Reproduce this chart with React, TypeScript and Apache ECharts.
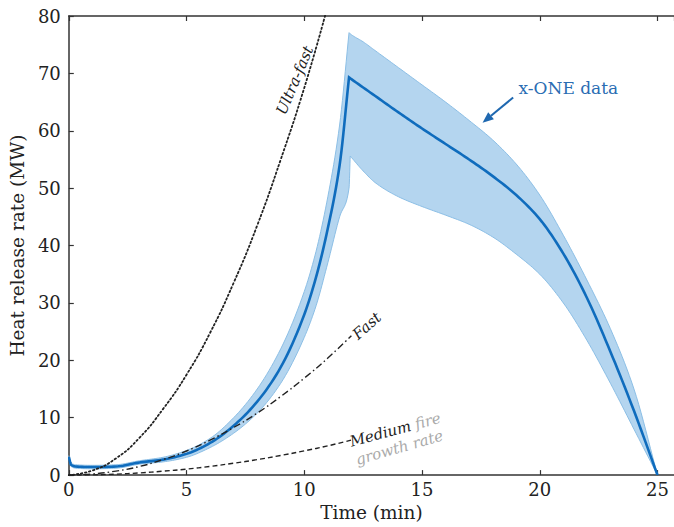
import React, { useEffect, useRef } from "react";
import * as echarts from "echarts";

// ---- data ----
const xTicks = [0, 5, 10, 15, 20, 25];
const yTicks = [0, 10, 20, 30, 40, 50, 60, 70, 80];

const meanTime = [0, 0.1, 0.3, 1, 2, 3, 4, 5, 6, 7, 8, 9, 10, 10.5, 11, 11.5, 11.9, 12, 13, 14, 15, 16, 17, 18, 19, 20, 21, 22, 23, 24, 25];
const meanHRR = [3.2, 1.8, 1.5, 1.4, 1.5, 2.2, 2.7, 3.7, 5.6, 8.6, 12.8, 18.8, 28, 34.5, 43, 54, 69.3, 69.0, 66.1, 63.2, 60.4, 57.7, 55.0, 52.1, 48.8, 44.6, 38.6, 30.9, 21.5, 11.2, 0];

const bandTime = [0, 0.1, 0.3, 1, 2, 3, 4, 5, 6, 7, 8, 9, 10, 10.5, 11, 11.5, 11.9, 11.95, 12.5, 13, 14, 15, 16, 17, 18, 19, 20, 21, 22, 23, 24, 25];
const bandUpper = [3.4, 2.1, 1.8, 1.7, 1.8, 2.5, 3.1, 4.3, 6.4, 10.0, 15, 22, 32, 39, 48.5, 61, 77.1, 76.9, 75.5, 74, 71, 68, 65, 61.8, 58.4, 54.2, 48.8, 41.8, 34, 25.5, 15, 0];
const bandLower = [3.0, 1.5, 1.2, 1.1, 1.2, 1.9, 2.3, 3.1, 4.8, 7.3, 10.8, 16, 24, 29.5, 37, 45, 50, 55.6, 53, 51, 48.5, 46.8, 45.3, 43.7, 41.5, 38.5, 35, 30, 23.5, 16, 8, 0];

const ultraTime = [0, 1, 2, 3, 4, 5, 6, 7, 8, 9, 10, 10.9];
const ultraHRR = [0, 0.8, 2.9, 6.5, 11.5, 17.5, 24.8, 33.5, 43.5, 55, 67.5, 80.3];

const fastTime = [0, 1, 2, 3, 4, 5, 6, 7, 8, 9, 10, 11, 12];
const fastHRR = [0, 0.2, 0.7, 1.5, 2.7, 4.2, 6.1, 8.3, 10.8, 13.7, 16.9, 20.4, 24.3];

const mediumTime = [0, 1, 2, 3, 4, 5, 6, 7, 8, 9, 10, 11, 12];
const mediumHRR = [0, 0.04, 0.17, 0.38, 0.68, 1.05, 1.52, 2.07, 2.7, 3.42, 4.22, 5.1, 6.1];

const X_MAX = 25.7;
const Y_MAX = 80;

const SERIF = '"DejaVu Serif", serif';

const zip = (t: number[], v: number[]) => t.map((x, i) => [x, v[i]]);

// monotone cubic (PCHIP) drawing of pixel points, x increasing
function pchip(pts: number[][], steps = 10): number[][] {
  const n = pts.length;
  if (n < 3) return pts.slice();
  const h: number[] = [];
  const d: number[] = [];
  for (let i = 0; i < n - 1; i++) {
    h[i] = Math.max(pts[i + 1][0] - pts[i][0], 1e-6);
    d[i] = (pts[i + 1][1] - pts[i][1]) / h[i];
  }
  const m: number[] = new Array(n).fill(0);
  m[0] = d[0];
  m[n - 1] = d[n - 2];
  for (let i = 1; i < n - 1; i++) {
    if (d[i - 1] * d[i] <= 0) m[i] = 0;
    else {
      const w1 = 2 * h[i] + h[i - 1];
      const w2 = h[i] + 2 * h[i - 1];
      m[i] = (w1 + w2) / (w1 / d[i - 1] + w2 / d[i]);
    }
  }
  const out: number[][] = [pts[0]];
  for (let i = 0; i < n - 1; i++) {
    const [x0, y0] = pts[i];
    const y1 = pts[i + 1][1];
    for (let k = 1; k <= steps; k++) {
      const s = k / steps;
      const s2 = s * s;
      const s3 = s2 * s;
      const h00 = 2 * s3 - 3 * s2 + 1;
      const h10 = s3 - 2 * s2 + s;
      const h01 = -2 * s3 + 3 * s2;
      const h11 = s3 - s2;
      out.push([x0 + s * h[i], h00 * y0 + h10 * h[i] * m[i] + h01 * y1 + h11 * h[i] * m[i + 1]]);
    }
  }
  return out;
}

// split at the maximum value so that the peak stays a sharp corner
function edge(pts: number[][], vals: number[]): number[][] {
  let k = 0;
  vals.forEach((v, i) => {
    if (v > vals[k]) k = i;
  });
  const a = pchip(pts.slice(0, k + 1));
  const b = pchip(pts.slice(k));
  return a.concat(b.slice(1));
}

export default function App() {
  const ref = useRef<HTMLDivElement>(null);

  useEffect(() => {
    document.body.style.margin = "0";
    const chart = echarts.init(ref.current!, null, { renderer: "svg" });

    const axisLine = { show: true, lineStyle: { color: "#333", width: 1.5 } };
    const axisTick = { show: true, inside: true, length: 5, lineStyle: { color: "#333", width: 1.2 } };

    const option: any = {
      animation: false,
      grid: { left: 61, right: 0, top: 16, bottom: 50 },
      xAxis: [
        {
          type: "value",
          min: 0,
          max: X_MAX,
          interval: 5,
          position: "bottom",
          axisLine,
          axisTick,
          splitLine: { show: false },
          axisLabel: {
            margin: 5,
            color: "#222",
            fontFamily: SERIF,
            fontSize: 18,
            showMaxLabel: false,
            formatter: (v: number) => (xTicks.includes(v) ? String(v) : ""),
          },
          name: "Time (min)",
          nameLocation: "middle",
          nameGap: 27,
          nameTextStyle: { color: "#222", fontFamily: SERIF, fontSize: 18.5 },
        },
        {
          type: "value",
          min: 0,
          max: X_MAX,
          interval: 5,
          position: "top",
          axisLine,
          axisTick,
          splitLine: { show: false },
          axisLabel: { show: false },
        },
      ],
      yAxis: {
        type: "value",
        min: 0,
        max: Y_MAX,
        interval: 10,
        axisLine,
        axisTick,
        splitLine: { show: false },
        axisLabel: {
          margin: 8,
          color: "#222",
          fontFamily: SERIF,
          fontSize: 18,
          formatter: (v: number) => (yTicks.includes(v) ? String(v) : ""),
        },
        name: "Heat release rate (MW)",
        nameLocation: "middle",
        nameGap: 34,
        nameTextStyle: { color: "#222", fontFamily: SERIF, fontSize: 18.5 },
      },
      series: [
        {
          name: "x-ONE range",
          type: "custom",
          xAxisIndex: 0,
          yAxisIndex: 0,
          clip: true,
          data: [[0, 0]],
          z: 1,
          renderItem: (_p: any, api: any) => {
            const up = edge(bandTime.map((t, i) => api.coord([t, bandUpper[i]])), bandUpper);
            const lo = edge(bandTime.map((t, i) => api.coord([t, bandLower[i]])), bandLower);
            return {
              type: "group",
              children: [
                {
                  type: "polygon",
                  shape: { points: up.concat(lo.slice().reverse()) },
                  style: { fill: "#b4d5ef", stroke: null },
                },
                {
                  type: "polyline",
                  shape: { points: up },
                  style: { fill: null, stroke: "#8cbfe6", lineWidth: 1 },
                },
                {
                  type: "polyline",
                  shape: { points: lo },
                  style: { fill: null, stroke: "#8cbfe6", lineWidth: 1 },
                },
              ],
            };
          },
        },
        {
          name: "x-ONE mean",
          type: "custom",
          xAxisIndex: 0,
          yAxisIndex: 0,
          clip: true,
          data: [[0, 0]],
          z: 3,
          renderItem: (_p: any, api: any) => {
            const pts = edge(meanTime.map((t, i) => api.coord([t, meanHRR[i]])), meanHRR);
            return {
              type: "polyline",
              shape: { points: pts },
              style: { fill: null, stroke: "#0f6cbd", lineWidth: 2.6, lineJoin: "miter" },
            };
          },
        },
        {
          name: "Ultra-fast",
          type: "line",
          data: zip(ultraTime, ultraHRR),
          symbol: "none",
          smooth: true,
          lineStyle: { color: "#222", width: 1.8, type: [1.5, 2.6], cap: "round" },
          z: 4,
        },
        {
          name: "Fast",
          type: "line",
          data: zip(fastTime, fastHRR),
          symbol: "none",
          smooth: true,
          lineStyle: { color: "#222", width: 1.4, type: [7, 3, 1.5, 3] },
          z: 4,
        },
        {
          name: "Medium",
          type: "line",
          data: zip(mediumTime, mediumHRR),
          symbol: "none",
          smooth: true,
          lineStyle: { color: "#222", width: 1.4, type: [5, 3] },
          z: 4,
        },
      ],
    };

    chart.setOption(option);

    const P = (x: number, y: number) =>
      chart.convertToPixel({ xAxisIndex: 0, yAxisIndex: 0 }, [x, y]) as number[];

    const deg = (d: number) => (d * Math.PI) / 180;
    const ital = (size: number) => `italic ${size}px ${SERIF}`;

    const uf = P(9.6, 68.8);
    const fa = P(12.66, 26.0);
    const me = P(11.95, 5.8);
    const gr = P(12.2, 2.6);
    const xo = P(19.1, 67.5);
    const a0 = P(18.87, 65.8);
    const a1 = P(17.57, 61.4);

    const dx = a1[0] - a0[0];
    const dy = a1[1] - a0[1];
    const len = Math.hypot(dx, dy);
    const ux = dx / len;
    const uy = dy / len;
    const headLen = 11;
    const headW = 4.5;
    const bx = a1[0] - ux * headLen;
    const by = a1[1] - uy * headLen;

    const txt = (text: string, p: number[], rot: number, font: string, fill: string, align: string) => ({
      type: "text",
      x: p[0],
      y: p[1],
      rotation: deg(rot),
      z: 10,
      style: {
        text,
        font,
        fill,
        align,
        verticalAlign: "middle",
        textAlign: align,
        textVerticalAlign: "middle",
      },
    });

    chart.setOption({
      graphic: [
        txt("Ultra-fast", uf, 67, ital(15), "#222", "center"),
        txt("Fast", fa, 42, ital(15), "#222", "center"),
        {
          type: "text",
          x: me[0],
          y: me[1],
          rotation: deg(15),
          z: 10,
          style: {
            text: "{a|Medium} {b|fire}",
            font: ital(15),
            align: "left",
            verticalAlign: "middle",
            textAlign: "left",
            textVerticalAlign: "middle",
            rich: {
              a: { font: ital(15), fill: "#222" },
              b: { font: ital(15), fill: "#aaa" },
            },
          },
        },
        txt("growth rate", gr, 16, ital(15), "#aaa", "left"),
        txt("x-ONE data", xo, 0, `17px ${SERIF}`, "#2a6db3", "left"),
        {
          type: "line",
          z: 10,
          shape: { x1: a0[0], y1: a0[1], x2: bx, y2: by },
          style: { stroke: "#1f68b0", lineWidth: 2 },
        },
        {
          type: "polygon",
          z: 10,
          shape: {
            points: [
              [a1[0], a1[1]],
              [bx - uy * headW, by + ux * headW],
              [bx + uy * headW, by - ux * headW],
            ],
          },
          style: { fill: "#1f68b0" },
        },
      ],
    });

    return () => chart.dispose();
  }, []);

  return (
    <div
      ref={ref}
      style={{ position: "absolute", left: 0, top: 0, width: 674, height: 527, background: "#fff" }}
    />
  );
}
